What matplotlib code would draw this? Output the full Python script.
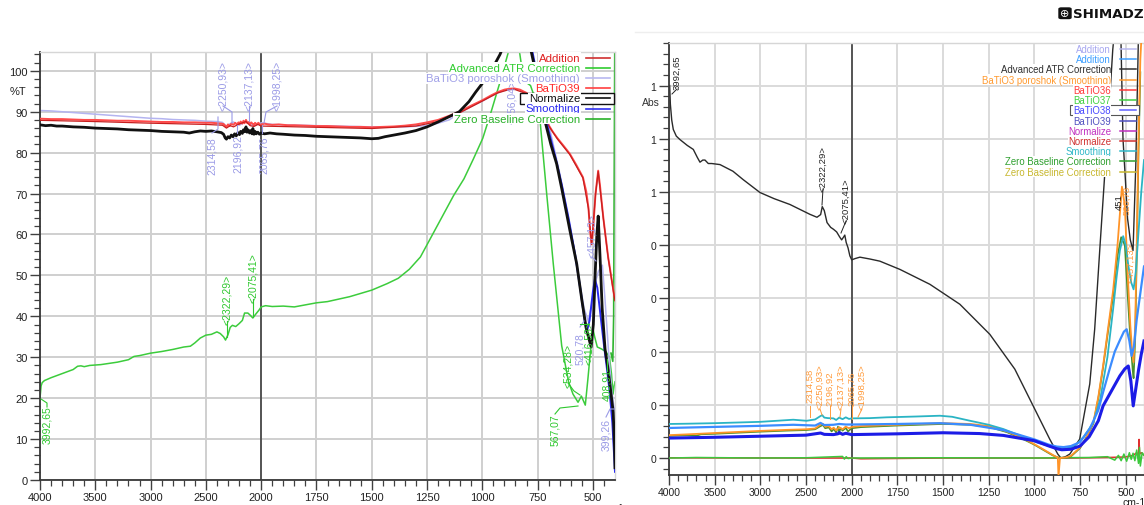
import numpy as np
import matplotlib
matplotlib.use("Agg")
import matplotlib.pyplot as plt
from matplotlib.lines import Line2D
from matplotlib.patches import Rectangle, FancyBboxPatch

plt.rcParams['font.family'] = ['Liberation Sans', 'DejaVu Sans']

W, H = 1144, 506

# ---------------------------------------------------------------- axes data
WN_MAJOR = [4000, 3500, 3000, 2500, 2000, 1750, 1500, 1250, 1000, 750, 500]
T_YTICKS = [0, 10, 20, 30, 40, 50, 60, 70, 80, 90, 100]
A_YTICKS = [0.0, 0.2, 0.4, 0.6, 0.8, 1.0, 1.2, 1.4]
A_YTICKLABELS = ["0", "0", "0", "0", "0", "1", "1", "1"]

# ---------------------------------------------------------------- %T spectra (wavenumber, %T)
t_lavender = [(4000, 90.3), (3900, 90.2), (3800, 90.0), (3700, 89.8), (3600, 89.6), (3500, 89.4),
              (3400, 89.2), (3300, 89.0), (3200, 88.8), (3100, 88.6), (3000, 88.4), (2900, 88.3),
              (2800, 88.1), (2700, 88.0), (2600, 87.9), (2500, 87.7), (2400, 87.6), (2350, 87.4),
              (2314.58, 86.4), (2280, 87.1), (2250.93, 87.5), (2220, 87.0), (2196.92, 86.7),
              (2160, 87.3), (2137.13, 87.8), (2100, 87.1), (2065.76, 86.5), (2030, 87.0),
              (1998.25, 87.3), (1950, 86.9), (1900, 86.8), (1750, 86.6), (1500, 86.3), (1350, 86.3),
              (1250, 86.6), (1200, 87.2), (1150, 88.0), (1100, 89.8), (1050, 91.3), (1000, 92.6),
              (960, 93.8), (930, 94.6), (900, 95.2), (856.04, 95.6), (830, 95.3), (800, 94.4),
              (770, 93.0), (745, 91.0), (720, 89.0), (700, 87.0), (650, 75.0), (600, 61.0),
              (560, 48.5), (540, 42.0), (520.78, 38.8), (505, 43.0), (490, 48.0), (475, 51.0),
              (457.13, 52.5), (445, 44.0), (430, 32.0), (415, 22.0), (405, 18.0), (399.26, 17.0)]

t_red = [(4000, 88.3), (3900, 88.2), (3800, 88.2), (3700, 88.1), (3600, 88.0), (3500, 88.0),
         (3400, 87.9), (3300, 87.8), (3200, 87.8), (3100, 87.7), (3000, 87.6), (2900, 87.5),
         (2800, 87.5), (2700, 87.4), (2600, 87.4), (2500, 87.3), (2450, 87.3), (2400, 87.2),
         (2360, 87.1), (2340, 87.0), (2325, 86.6), (2314, 86.3), (2300, 86.9), (2285, 86.5),
         (2270, 87.1), (2250, 86.8), (2235, 87.3), (2220, 86.9), (2205, 87.4), (2196, 87.0),
         (2185, 87.6), (2170, 87.1), (2160, 87.8), (2150, 87.2), (2137, 88.0), (2125, 87.2),
         (2110, 87.5), (2100, 86.9), (2090, 87.4), (2075, 87.0), (2065, 86.7), (2055, 87.3),
         (2040, 86.9), (2025, 87.3), (2010, 86.8), (1998, 86.9), (1985, 87.1), (1970, 86.9),
         (1950, 86.8), (1920, 86.9), (1880, 86.7), (1850, 86.7), (1800, 86.6), (1750, 86.5),
         (1700, 86.5), (1650, 86.4), (1600, 86.3), (1550, 86.3), (1500, 86.2), (1450, 86.3),
         (1400, 86.4), (1350, 86.6), (1300, 86.9), (1250, 87.4), (1200, 88.0), (1150, 89.0),
         (1100, 90.1), (1050, 91.5), (1000, 92.8), (960, 94.0), (930, 94.8), (900, 95.4),
         (880, 95.6), (856, 95.7), (830, 95.4), (800, 94.6), (770, 93.2), (745, 91.5),
         (725, 89.5), (703, 87.0), (680, 85.0), (660, 83.5), (630, 81.5), (604, 79.7),
         (575, 77.0), (545, 74.0), (530, 70.5), (520, 66.5), (513, 61.0), (506, 57.7),
         (498, 62.0), (488, 70.0), (476, 75.6), (468, 72.0), (453, 64.2), (431, 54.5),
         (415, 49.0), (405, 45.5), (400, 44.0)]

t_addition = [(4000, 87.9), (3500, 87.6), (3000, 87.2), (2500, 86.9), (2350, 86.7), (2314, 86.0),
              (2280, 86.6), (2250, 86.3), (2200, 87.0), (2137, 87.6), (2100, 86.6), (2065, 86.4),
              (2030, 86.9), (2000, 86.5), (1750, 86.2), (1500, 85.9), (1300, 86.5), (1200, 87.6),
              (1100, 89.8), (1000, 92.6), (930, 94.6), (880, 95.4), (856, 95.5), (800, 94.4),
              (745, 91.3), (703, 86.8), (660, 83.3), (604, 79.5), (545, 73.8), (520, 66.3),
              (506, 57.5), (488, 69.8), (476, 75.4), (453, 64.0), (431, 54.3), (405, 45.3),
              (400, 43.8)]

t_black = [(4000, 86.8), (3950, 86.6), (3900, 86.7), (3850, 86.5), (3800, 86.5), (3700, 86.3),
           (3600, 86.2), (3500, 86.0), (3400, 85.9), (3300, 85.8), (3200, 85.6), (3100, 85.5),
           (3000, 85.4), (2900, 85.2), (2800, 85.1), (2700, 85.0), (2650, 84.8), (2600, 85.1),
           (2550, 85.3), (2500, 85.2), (2450, 85.3), (2400, 85.1), (2360, 84.9), (2340, 84.5),
           (2325, 83.6), (2314, 83.3), (2300, 83.9), (2285, 83.6), (2270, 84.3), (2255, 83.9),
           (2240, 84.6), (2225, 84.1), (2210, 84.9), (2196, 84.4), (2185, 85.2), (2170, 84.7),
           (2160, 85.6), (2150, 85.1), (2137, 86.3), (2128, 85.0), (2118, 85.6), (2105, 84.8),
           (2095, 85.4), (2082, 84.6), (2075, 85.9), (2065, 84.5), (2055, 85.2), (2045, 84.6),
           (2030, 85.0), (2015, 84.5), (2000, 84.8), (1985, 84.6), (1960, 84.8), (1930, 84.6),
           (1900, 84.5), (1850, 84.3), (1800, 84.2), (1750, 84.0), (1700, 83.9), (1650, 83.8),
           (1600, 83.7), (1550, 83.6), (1500, 83.4), (1470, 83.5), (1440, 83.9), (1400, 84.3),
           (1350, 84.8), (1300, 85.4), (1250, 86.3), (1200, 87.5), (1150, 88.8), (1104, 90.0),
           (1060, 92.5), (1030, 94.8), (996, 97.2), (970, 99.5), (950, 101.0), (920, 104.0),
           (890, 108.0), (850, 112.0), (800, 110.0), (760, 100.0), (717, 87.8), (690, 82.0),
           (664, 77.3), (640, 71.0), (604, 61.0), (573, 52.8), (550, 44.0), (530, 37.0),
           (508, 32.5), (498, 38.0), (490, 50.0), (482, 60.0), (476, 64.5), (468, 55.0),
           (458, 42.0), (445, 32.0), (431, 27.0), (420, 22.0), (408, 16.6), (402, 8.0), (400, 3.0)]

t_smoothing = [(800, 112.0), (760, 101.0), (730, 92.0), (703, 86.0), (670, 79.0), (640, 72.0),
               (610, 64.0), (580, 55.0), (555, 46.0), (540, 40.0), (528, 36.1), (515, 39.0),
               (500, 46.0), (491, 49.1), (480, 47.0), (465, 40.0), (450, 33.0), (438, 27.9),
               (425, 22.0), (412, 14.0), (404, 6.0), (400, 2.0)]

t_atr = [(4000, 20.0), (3995, 21.5), (3990, 23.0), (3980, 23.8), (3960, 24.3), (3900, 25.0),
         (3800, 26.0), (3700, 27.0), (3660, 27.8), (3630, 27.9), (3600, 27.7), (3550, 28.0),
         (3450, 28.2), (3300, 28.8), (3200, 29.4), (3150, 30.2), (3100, 30.4), (3000, 31.0),
         (2900, 31.4), (2800, 31.9), (2700, 32.5), (2640, 32.7), (2600, 33.5), (2550, 34.7),
         (2500, 35.4), (2450, 35.6), (2400, 36.2), (2370, 35.8), (2340, 35.0), (2322.29, 34.2),
         (2300, 35.5), (2280, 37.3), (2260, 37.8), (2230, 37.5), (2200, 38.2), (2170, 39.0),
         (2150, 40.8), (2120, 40.8), (2100, 40.3), (2075.41, 39.6), (2050, 40.5), (2020, 41.5),
         (2000, 42.3), (1980, 42.6), (1950, 42.4), (1900, 42.5), (1850, 42.3), (1800, 42.8),
         (1750, 43.3), (1700, 43.6), (1600, 44.8), (1500, 46.4), (1430, 48.0), (1380, 49.3),
         (1330, 51.5), (1280, 54.5), (1230, 59.5), (1180, 64.5), (1130, 69.5), (1083, 73.6),
         (1040, 78.5), (998, 83.5), (960, 90.0), (918, 97.6), (880, 105.0), (850, 110.0),
         (830, 104.0), (813, 97.6), (782, 96.4), (760, 93.0), (739, 87.9), (709, 70.0),
         (679, 52.8), (641, 32.8), (610, 24.0), (590, 21.0), (567.07, 19.0), (552, 20.5),
         (534.28, 18.3), (522, 25.0), (510, 32.0), (500, 37.0), (492, 35.0), (480, 32.5),
         (460, 32.0), (440, 31.3), (425, 30.0), (416, 26.0), (408.91, 21.0), (404, 23.0),
         (400, 24.0)]

t_zero_baseline = [(418, 31.0), (410, 29.0), (406, 40.0), (403, 80.0), (401, 106.0)]

# ---------------------------------------------------------------- Abs spectra (wavenumber, Abs)
a_black = [(3992.65, 1.40), (3985, 1.33), (3970, 1.27), (3953, 1.235), (3920, 1.21), (3880, 1.197),
           (3800, 1.175), (3734, 1.16), (3690, 1.13), (3661, 1.112), (3630, 1.12), (3606, 1.12),
           (3570, 1.107), (3533, 1.107), (3442, 1.103), (3300, 1.078), (3190, 1.047), (3004, 0.998),
           (2850, 0.975), (2676, 0.953), (2457, 0.916), (2380, 0.905), (2340, 0.915),
           (2322.29, 0.945), (2300, 0.93), (2270, 0.885), (2230, 0.867), (2200, 0.86),
           (2165, 0.85), (2130, 0.83), (2110, 0.82), (2090, 0.83), (2075.41, 0.838), (2060, 0.81),
           (2040, 0.79), (2020, 0.76), (2000, 0.745), (1980, 0.75), (1955, 0.755), (1900, 0.748),
           (1846, 0.74), (1736, 0.709), (1572, 0.653), (1408, 0.578), (1244, 0.465),
           (1107, 0.334), (998, 0.184), (916, 0.071), (872, 0.015), (855, 0.0), (830, 0.005),
           (806, 0.015), (752, 0.071), (697, 0.278), (670, 0.484), (642, 0.784), (615, 1.066),
           (588, 1.347), (571, 1.535), (555, 1.65), (530, 1.70), (515, 1.20), (503, 1.06),
           (490, 0.90), (475, 0.82), (460, 0.78), (445, 1.10), (430, 1.60)]

a_cyan = [(4000, 0.128), (3800, 0.129), (3500, 0.131), (3000, 0.136), (2640, 0.144), (2494, 0.140),
          (2400, 0.145), (2341, 0.158), (2322, 0.161), (2300, 0.152), (2260, 0.150), (2199, 0.149),
          (2170, 0.143), (2137, 0.152), (2100, 0.146), (2065, 0.153), (2030, 0.147), (2000, 0.149),
          (1900, 0.150), (1808, 0.153), (1650, 0.156), (1517, 0.159), (1450, 0.155), (1352, 0.140),
          (1250, 0.125), (1170, 0.109), (1080, 0.085), (987, 0.059), (920, 0.045), (877, 0.037),
          (840, 0.035), (800, 0.040), (768, 0.052), (730, 0.080), (700, 0.110), (677, 0.134),
          (640, 0.220), (600, 0.380), (569, 0.560), (550, 0.680), (532, 0.780), (514, 0.834),
          (500, 0.800), (485, 0.720), (470, 0.660), (457, 0.634), (445, 0.700), (430, 0.850),
          (415, 1.000), (400, 1.120)]

a_lightblue = [(4000, 0.113), (3500, 0.117), (3000, 0.121), (2640, 0.125), (2400, 0.122),
               (2341, 0.132), (2300, 0.124), (2200, 0.125), (2137, 0.128), (2065, 0.126),
               (2000, 0.126), (1750, 0.128), (1517, 0.131), (1350, 0.125), (1170, 0.105),
               (1000, 0.070), (920, 0.050), (877, 0.043), (840, 0.041), (800, 0.045), (750, 0.060),
               (697, 0.110), (650, 0.180), (624, 0.247), (590, 0.330), (560, 0.400), (530, 0.446),
               (510, 0.475), (495, 0.484), (480, 0.440), (468, 0.384), (455, 0.420), (440, 0.520),
               (420, 0.620), (400, 0.720)]

a_blue = [(4000, 0.075), (3500, 0.078), (3000, 0.082), (2500, 0.086), (2341, 0.094), (2300, 0.089),
          (2200, 0.088), (2150, 0.091), (2137, 0.096), (2100, 0.089), (2065, 0.093), (2000, 0.088),
          (1750, 0.091), (1500, 0.095), (1300, 0.092), (1170, 0.085), (1000, 0.065), (920, 0.045),
          (877, 0.035), (850, 0.031), (800, 0.033), (750, 0.045), (700, 0.080), (650, 0.140),
          (624, 0.196), (580, 0.250), (532, 0.309), (505, 0.335), (486, 0.346), (472, 0.290),
          (459, 0.196), (445, 0.260), (430, 0.330), (415, 0.390), (400, 0.440)]

a_orange = [(4000, 0.086), (3800, 0.089), (3500, 0.094), (3000, 0.102), (2700, 0.106), (2500, 0.108),
            (2400, 0.111), (2341, 0.126), (2314.58, 0.128), (2290, 0.118), (2250.93, 0.120),
            (2220, 0.108), (2196.92, 0.114), (2170, 0.104), (2137.13, 0.116), (2100, 0.108),
            (2065.76, 0.118), (2030, 0.112), (1998.25, 0.117), (1950, 0.120), (1750, 0.125),
            (1500, 0.131), (1350, 0.128), (1250, 0.120), (1150, 0.100), (1050, 0.070),
            (1000, 0.052), (950, 0.032), (900, 0.012), (880, 0.004), (872, 0.003), (868, -0.070),
            (860, 0.000), (830, 0.002), (800, 0.008), (750, 0.040), (720, 0.070), (700, 0.100),
            (677, 0.134), (650, 0.230), (624, 0.346), (600, 0.470), (569, 0.630), (545, 0.800),
            (520.78, 1.020), (505, 0.950), (490, 0.700), (475, 0.500), (465, 0.400),
            (457.13, 0.360), (448, 0.500), (440, 0.800), (430, 1.200), (420, 1.500), (405, 1.700)]

a_darkgreen = [(4000, 0.083), (3800, 0.086), (3700, 0.084), (3650, 0.089), (3500, 0.091),
               (3000, 0.099), (2700, 0.103), (2500, 0.105), (2400, 0.108), (2341, 0.120),
               (2314, 0.124), (2290, 0.112), (2250, 0.115), (2220, 0.100), (2196, 0.109),
               (2170, 0.096), (2150, 0.118), (2137, 0.098), (2120, 0.112), (2100, 0.103),
               (2065, 0.113), (2040, 0.100), (2000, 0.112), (1950, 0.116), (1750, 0.122),
               (1500, 0.128), (1350, 0.125), (1250, 0.117), (1150, 0.097), (1050, 0.067),
               (1000, 0.050), (950, 0.030), (900, 0.010), (870, 0.002), (830, 0.001), (800, 0.006),
               (750, 0.037), (700, 0.097), (677, 0.130), (650, 0.225), (624, 0.340), (600, 0.460),
               (569, 0.610), (545, 0.760), (525, 0.830), (505, 0.800), (490, 0.620), (475, 0.450),
               (462, 0.330), (457, 0.300), (448, 0.450), (440, 0.750), (430, 1.150), (420, 1.450)]

a_green_zero = [(4000, 0.0), (3700, 0.002), (3000, 0.0), (2500, 0.001), (2100, 0.006), (2080, -0.004),
                (2060, 0.005), (2040, -0.002), (2000, 0.0), (1500, 0.001), (1000, 0.0), (700, 0.002),
                (600, 0.005), (560, -0.008), (540, 0.010), (525, -0.010), (510, 0.015), (495, -0.012),
                (480, 0.020), (470, -0.005), (460, 0.018), (450, -0.010), (440, 0.030), (430, -0.020),
                (425, 0.040), (420, -0.030), (410, 0.020), (400, 0.010)]

a_red_zero = [(4000, 0.001), (2500, 0.0), (2000, 0.0), (1950, -0.003), (1500, 0.0), (800, 0.0),
              (600, 0.002), (500, 0.004), (460, 0.010), (440, 0.020), (430, 0.010), (427, 0.070),
              (424, 0.015), (415, 0.020), (400, 0.010)]

# ---------------------------------------------------------------- legends (label, text colour, line colour)
t_legend = [("Addition", "#e02020", "#d03030"),
            ("Advanced ATR Correction", "#30cc30", "#30cc30"),
            ("BaTiO3 poroshok (Smoothing)", "#a0a0e8", "#b8b8f0"),
            ("BaTiO39", "#ff2828", "#ff4040"),
            ("Normalize", "#101010", "#101010"),
            ("Smoothing", "#2828f0", "#3030f0"),
            ("Zero Baseline Correction", "#28b028", "#28b028")]

a_legend = [("Addition", "#a8a8f0", "#b8b8f0"),
            ("Addition", "#3fa0ff", "#3fa0ff"),
            ("Advanced ATR Correction", "#303030", "#303030"),
            ("BaTiO3 poroshok (Smoothing)", "#ff9a30", "#ff9a30"),
            ("BaTiO36", "#ff3a3a", "#ff3a3a"),
            ("BaTiO37", "#40d040", "#40d040"),
            ("BaTiO38", "#4848ff", "#6060ff"),
            ("BaTiO39", "#5050c0", "#5050c0"),
            ("Normalize", "#c030c0", "#c030c0"),
            ("Normalize", "#d03030", "#d03030"),
            ("Smoothing", "#30b8c8", "#30b8c8"),
            ("Zero Baseline Correction", "#30a030", "#30a030"),
            ("Zero Baseline Correction", "#c8b830", "#c8b830")]


# ---------------------------------------------------------------- helpers
def wn_forward(w):
    w = np.asarray(w, dtype=float)
    return np.where(w > 2000, 2000 + (w - 2000) / 2.0, w)


def wn_inverse(s):
    s = np.asarray(s, dtype=float)
    return np.where(s > 2000, 2000 + (s - 2000) * 2.0, s)


def xy(points):
    w, v = zip(*points)
    return np.array(w), np.array(v)


fig = plt.figure(figsize=(W / 100, H / 100), dpi=100)
fig.patch.set_facecolor("white")


def fig_line(xs, ys, color, lw=0.8, z=4):
    fig.add_artist(Line2D([x / W for x in xs], [1 - y / H for y in ys], color=color, lw=lw,
                          transform=fig.transFigure, zorder=z))


def fig_text(x, y, s, color, size, rot=0, z=4, ha="center", va="center", **kw):
    return fig.text(x / W, 1 - y / H, s, color=color, fontsize=size, rotation=rot,
                    ha=ha, va=va, zorder=z, **kw)


def style_axes(ax, ylim, yticks, yticklabels, yminor, fs):
    ax.set_xscale("function", functions=(wn_forward, wn_inverse))
    ax.set_xlim(4000, 400)
    ax.set_ylim(*ylim)
    xminor = [w for w in range(3900, 2000, -100) if w % 500] + \
             [w for w in range(1950, 400, -50) if w % 250]
    ax.set_xticks(WN_MAJOR)
    ax.set_xticklabels([str(v) for v in WN_MAJOR])
    ax.set_xticks(xminor, minor=True)
    ax.set_yticks(yticks)
    ax.set_yticklabels(yticklabels)
    ax.set_yticks(yminor, minor=True)
    ax.tick_params(which="major", direction="out", length=7, width=1.0, color="#404040",
                   labelsize=fs, labelcolor="#222222", pad=2)
    ax.tick_params(which="minor", direction="out", length=4, width=0.9, color="#404040")
    ax.grid(True, which="major", color="#cfcfcf", lw=1.4)
    ax.set_axisbelow(True)
    for side in ("left", "bottom"):
        ax.spines[side].set_color("#383838")
        ax.spines[side].set_linewidth(1.3)
    for side in ("top", "right"):
        ax.spines[side].set_color("#d6d6d6")
        ax.spines[side].set_linewidth(1.0)
    ax.axvline(2000, color="#4a4a4a", lw=1.3, zorder=1)


# ---------------------------------------------------------------- %T panel
ax1 = fig.add_axes([40 / W, 1 - 481 / H, 575 / W, 428 / H])
style_axes(ax1, (0, 104.6), T_YTICKS, [str(v) for v in T_YTICKS],
           [v for v in range(0, 105, 2) if v % 10], 8)

for pts, col, lw, z in [(t_atr, "#3ccc3c", 1.1, 2), (t_zero_baseline, "#2fb42f", 1.2, 2),
                        (t_lavender, "#b4b4f0", 1.1, 2), (t_red, "#ff4a4a", 1.4, 3),
                        (t_addition, "#c81e1e", 0.9, 3), (t_smoothing, "#2a2af0", 1.4, 3),
                        (t_black, "#111111", 2.0, 4)]:
    w, v = xy(pts)
    ax1.plot(w, v, color=col, lw=lw, zorder=z, solid_joinstyle="round")

fig_text(18, 92, "%T", "#222222", 8)
fig_text(612, 509, "cm-1", "#222222", 8)

# peak labels of the %T panel
lav = "#9a9ae6"
grn = "#2ec82e"
for s, x, y in [("<2250,93>", 223, 86), ("<2137,13>", 249, 86), ("<1998,25>", 277, 86),
                ("2314,58", 212, 156), ("2196,92", 238, 154), ("2065,76", 264, 155),
                ("<856,04>", 512, 102), ("<457,13>", 592, 236), ("520,78", 580, 349),
                ("399,26", 606, 435)]:
    fig_text(x, y, s, lav, 7.5, rot=90)
for s, x, y in [("3992,65", 47, 425), ("<2322,29>", 227, 300), ("<2075,41>", 253, 278),
                ("<534,28>", 568, 366), ("567,07", 555, 430), ("408,91", 607, 385),
                ("<416,58>", 589, 343)]:
    fig_text(x, y, s, grn, 7.5, rot=90)

for xs, ys in [([223, 232, 232], [107, 113, 124]), ([249, 249], [107, 122]),
               ([277, 266, 264], [107, 113, 124]), ([218, 218, 212], [118, 130, 134]),
               ([237, 237], [126, 134]), ([262, 262], [126, 134]),
               ([592, 596], [258, 262]), ([580, 584], [328, 322]),
               ([606, 610, 614], [418, 410, 410])]:
    fig_line(xs, ys, lav, lw=0.8)
for xs, ys in [([41, 47, 47], [400, 404, 408]), ([227, 227], [322, 338]), ([253, 253], [300, 318]),
               ([568, 574, 580], [384, 392, 396]), ([555, 560, 578], [415, 409, 407]),
               ([607, 607], [372, 360]), ([589, 584, 580], [325, 325, 325])]:
    fig_line(xs, ys, grn, lw=0.8)

# legend of the %T panel
fig.add_artist(Rectangle((520 / W, 1 - 104.5 / H), 94 / W, 10.5 / H, transform=fig.transFigure,
                         facecolor="white", edgecolor="#111111", lw=1.0, zorder=5))
for i, (label, tcol, lcol) in enumerate(t_legend):
    y = 59 + i * 10.1
    fig_text(580, y, label, tcol, 8.2, ha="right", z=6,
             bbox=dict(boxstyle="square,pad=0.06", fc="white", ec="none"))
    fig_line([586, 610], [y, y], lcol, lw=1.2, z=6)

# ---------------------------------------------------------------- Abs panel
ax2 = fig.add_axes([669 / W, 1 - 476 / H, 475 / W, 432 / H])
style_axes(ax2, (-0.0638, 1.557), A_YTICKS, A_YTICKLABELS,
           [round(-0.04 + 0.04 * k, 2) for k in range(0, 41) if (k - 1) % 5], 7.5)
for gl in ax2.get_xgridlines() + ax2.get_ygridlines():
    gl.set_color("#dadada")

for pts, col, lw, z in [(a_black, "#2a2a2a", 1.0, 2), (a_red_zero, "#e03030", 1.1, 2),
                        (a_green_zero, "#3cc83c", 1.1, 3), (a_darkgreen, "#4a8f2a", 1.2, 3),
                        (a_orange, "#ff9428", 1.3, 3), (a_cyan, "#2ab4c4", 1.3, 3),
                        (a_lightblue, "#3b8cff", 1.6, 4), (a_blue, "#1c1ce6", 2.2, 4)]:
    w, v = xy(pts)
    ax2.plot(w, v, color=col, lw=lw, zorder=z, solid_joinstyle="round")

fig_text(651, 103, "Abs", "#333333", 7.5)
fig_text(1134, 503, "cm-1", "#222222", 7.5)
fig_line([635, 1144], [33, 33], "#eeeeee", lw=1.0, z=1)

org = "#ff9a3a"
for s, x, y in [("2314,58", 810, 386), ("<2250,93>", 820, 387), ("2196,92", 830, 389),
                ("<2137,13>", 841, 387), ("2065,76", 852, 389), ("<1998,25>", 862, 387),
                ("520,78", 1127, 200), ("<457,13>", 1131, 263)]:
    fig_text(x, y, s, org, 6.8, rot=90)
for xs, ys in [([810, 810], [407, 418]), ([820, 822], [410, 416]), ([830, 830], [407, 420]),
               ([841, 840], [410, 418]), ([852, 852], [407, 420]), ([862, 858], [410, 418])]:
    fig_line(xs, ys, org, lw=0.7)
for s, x, y in [("3992,65", 677, 73), ("<2322,29>", 823, 169), ("<2075,41>", 846, 201),
                ("451", 1119, 202)]:
    fig_text(x, y, s, "#222222", 6.8, rot=90)
for xs, ys in [([677, 672], [90, 95]), ([823, 822], [190, 206]), ([846, 841], [222, 234])]:
    fig_line(xs, ys, "#222222", lw=0.7)

# legend of the Abs panel
fig.add_artist(Rectangle((1070 / W, 1 - 115.6 / H), 69 / W, 9.2 / H, transform=fig.transFigure,
                         facecolor="white", edgecolor="#555555", lw=0.8, zorder=5))
for i, (label, tcol, lcol) in enumerate(a_legend):
    y = 50 + i * 10.22
    fig_text(1111, y, label, tcol, 6.9, ha="right", z=6,
             bbox=dict(boxstyle="square,pad=0.05", fc="white", ec="none"))
    fig_line([1120, 1136], [y, y], lcol, lw=1.1, z=6)

# maker's logo
fig.add_artist(FancyBboxPatch((1059 / W, 1 - 19.5 / H), 12 / W, 10.5 / H,
                              boxstyle="round,pad=0,rounding_size=0.002",
                              transform=fig.transFigure, facecolor="#111111",
                              edgecolor="#111111", zorder=6))
fig_text(1065, 14.3, "\u2295", "white", 8, z=7, family="DejaVu Sans")
fig_text(1073, 14.5, "SHIMADZU", "#111111", 9.6, ha="left", z=7, family="DejaVu Sans",
         fontweight="bold")

fig.savefig("out.png", dpi=100, facecolor="white")
